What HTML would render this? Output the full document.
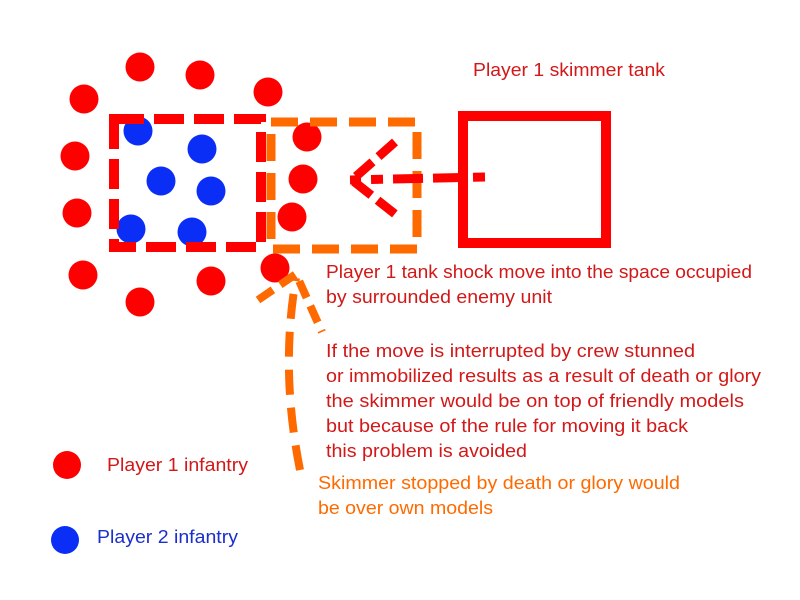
<!DOCTYPE html>
<html><head><style>html,body{margin:0;padding:0;background:#fff}svg{display:block}text{font-family:"Liberation Sans",sans-serif;font-size:18.5px}</style></head>
<body>
<svg width="800" height="600" viewBox="0 0 800 600" xmlns="http://www.w3.org/2000/svg">
<g fill="#f00">
<circle cx="140" cy="67" r="14.5"/><circle cx="200" cy="75" r="14.5"/><circle cx="268" cy="92" r="14.5"/>
<circle cx="84" cy="99" r="14.5"/><circle cx="75" cy="156" r="14.5"/><circle cx="307" cy="137" r="14.5"/>
<circle cx="303" cy="179" r="14.5"/><circle cx="292" cy="217" r="14.5"/><circle cx="77" cy="213" r="14.5"/>
<circle cx="83" cy="275" r="14.5"/><circle cx="211" cy="281" r="14.5"/><circle cx="140" cy="302" r="14.5"/>
<circle cx="275" cy="268" r="14.5"/>
<circle cx="67" cy="465" r="14"/>
</g>
<g fill="#0a2ef5">
<circle cx="138" cy="131" r="14.5"/><circle cx="202" cy="149" r="14.5"/><circle cx="161" cy="181" r="14.5"/>
<circle cx="211" cy="191" r="14.5"/><circle cx="131" cy="229" r="14.5"/><circle cx="192" cy="232" r="14.5"/>
<circle cx="65" cy="540" r="14"/>
</g>
<rect x="114" y="119" width="147" height="128" fill="none" stroke="#f00" stroke-width="10" stroke-dasharray="30,10"/>
<rect x="271" y="122" width="146" height="127" fill="none" stroke="#ff6a00" stroke-width="9" stroke-dasharray="27,12"/>
<rect x="463" y="116" width="143" height="127" fill="none" stroke="#f00" stroke-width="10"/>
<path d="M485 177 L350 180" stroke="#f00" stroke-width="9" fill="none" stroke-dasharray="12,10,30,10,30,10"/>
<path d="M395 142 L352 180 L395 214" stroke="#f00" stroke-width="9" fill="none" stroke-dasharray="22,8"/>
<path d="M300 470 Q280 370 296 278" stroke="#ff6a00" stroke-width="8" fill="none" stroke-dasharray="25,13"/>
<path d="M258 300 L296 274 L322 332" stroke="#ff6a00" stroke-width="8" fill="none" stroke-dasharray="18,9"/>
<g fill="#d21818">
<text x="473" y="76" textLength="192" lengthAdjust="spacingAndGlyphs">Player 1 skimmer tank</text>
<text x="326" y="278" textLength="426" lengthAdjust="spacingAndGlyphs">Player 1 tank shock move into the space occupied</text>
<text x="326" y="303" textLength="226" lengthAdjust="spacingAndGlyphs">by surrounded enemy unit</text>
<text x="326" y="357" textLength="369" lengthAdjust="spacingAndGlyphs">If the move is interrupted by crew stunned</text>
<text x="326" y="382" textLength="435" lengthAdjust="spacingAndGlyphs">or immobilized results as a result of death or glory</text>
<text x="326" y="407" textLength="418" lengthAdjust="spacingAndGlyphs">the skimmer would be on top of friendly models</text>
<text x="326" y="432" textLength="362" lengthAdjust="spacingAndGlyphs">but because of the rule for moving it back</text>
<text x="326" y="457" textLength="201" lengthAdjust="spacingAndGlyphs">this problem is avoided</text>
<text x="107" y="471" textLength="141" lengthAdjust="spacingAndGlyphs">Player 1 infantry</text>
</g>
<g fill="#ff6a00">
<text x="318" y="489" textLength="362" lengthAdjust="spacingAndGlyphs">Skimmer stopped by death or glory would</text>
<text x="318" y="514" textLength="175" lengthAdjust="spacingAndGlyphs">be over own models</text>
</g>
<text x="97" y="543" fill="#1a2fcc" textLength="141" lengthAdjust="spacingAndGlyphs">Player 2 infantry</text>
</svg>
</body></html>
